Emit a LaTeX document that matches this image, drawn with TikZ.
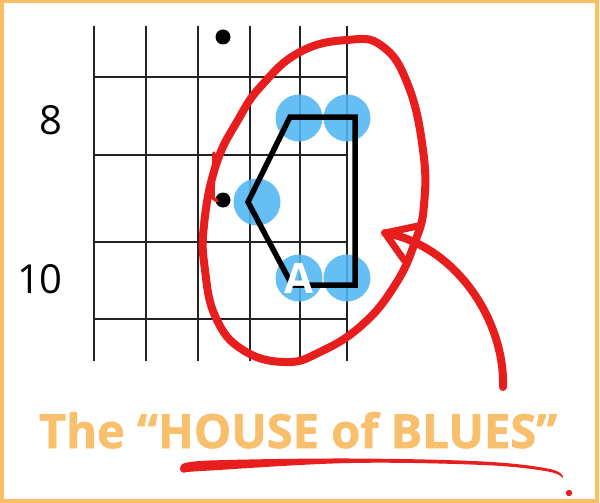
\documentclass[tikz,border=0pt]{standalone}
\usepackage{fontspec}
\setmainfont{Open Sans}
\newfontfamily\titlefont{Open Sans}[BoldFeatures={FakeBold=1.3}]
\usepackage{tikz}
\definecolor{hbblue}{RGB}{80,182,243}
\definecolor{hbred}{RGB}{232,30,30}
\definecolor{hborange}{RGB}{248,192,108}
\definecolor{hbframe}{RGB}{251,190,100}
\definecolor{hbgrid}{RGB}{35,35,35}
\usetikzlibrary{positioning}

\begin{document}
\begin{tikzpicture}[x=1pt, y=-1pt,
  notedot/.style={circle, fill=hbblue, fill opacity=0.88, minimum size=47pt, inner sep=0pt},
  fretdot/.style={circle, fill=black, minimum size=15pt, inner sep=0pt},
  fretnum/.style={anchor=east, inner sep=0pt, font=\fontsize{40}{40}\selectfont},
  pen/.style={draw=hbred, line width=8pt, line cap=round, line join=round}]
  \useasboundingbox (0,0) rectangle (600,503);
  \fill[white] (0,0) rectangle (600,503);
  \draw[hbframe, line width=3.5pt] (1.75,1.75) rectangle (597,501);
  % strings and frets
  \foreach \x in {94,146,198,250,300,347} \draw[hbgrid, line width=2.8pt] (\x,26) -- (\x,361);
  \foreach \y in {77,155,242,319} \draw[hbgrid, line width=2.8pt] (94,\y) -- (347,\y);
  \node[fretdot] (dot7) at (223,37) {};
  \node[fretdot] (dot9) at (223,200) {};
  \node[fretnum] (lbl8) at (63,120) {8};
  \node[fretnum] (lbl10) at (63,279) {10};
  % the five notes
  \node[notedot] (n8a) at (299,118) {};
  \node[notedot] (n8b) at (347,118) {};
  \node[notedot] (n9) at (257,202) {};
  \node[notedot] (n10a) at (299,278) {};
  \node[notedot] (n10b) at (347,278) {};
  \coordinate (hA) at (290,117);
  \coordinate (hB) at (355,117);
  \coordinate (hC) at (355,285);
  \coordinate (hD) at (292,285);
  \coordinate (hE) at (248,202);
  \draw[black, line width=5.5pt, line join=miter] (hA) -- (hB) -- (hC) -- (hD) -- (hE) -- cycle;
  \node[text=white, inner sep=0pt, font=\bfseries\fontsize{42}{42}\selectfont] (root) at (n10a) {A};
  % red pen marks
  \draw[pen] plot[smooth cycle, tension=0.75] coordinates {(216,165) (238,120) (262,85) (300,52) (347,40) (382,46) (408,85) (423,150) (424,205) (415,242) (395,285) (362,325) (320,352) (285,362) (243,350) (216,318) (205,270) (204,225)};
  \draw[hbred, line width=3.5pt, line cap=round] (214,153) -- (213,198) -- (217,201);
  \coordinate (tail) at (503,387);
  \coordinate (tip) at (385,233);
  \draw[pen] (tail) .. controls (505,320) and (455,245) .. (tip);
  \draw[pen, line width=7pt] (418,226) -- (tip) -- (404,260);
  \node[text=hborange, anchor=base, font=\titlefont\bfseries\fontsize{47}{47}\selectfont] (title) at (298,448) {The “HOUSE of BLUES”};
  \fill[hbred] plot[smooth, tension=0.6] coordinates {(182,464.5) (210,460.5) (350,458.5) (483,461.5) (550,469) (563,477.5)} -- plot[smooth, tension=0.6] coordinates {(563,478.5) (548,471.5) (483,465) (350,463) (210,470.5) (183,472.5)} -- cycle;
  \fill[hbred] (184,468.5) circle (4.2);
  \fill[hbred] (569,493) circle (3.2);
\end{tikzpicture}
\end{document}
